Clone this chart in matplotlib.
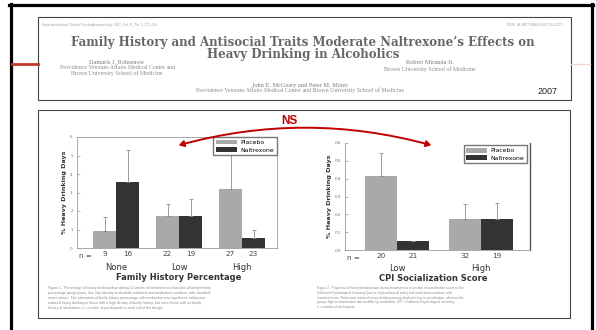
import matplotlib
matplotlib.use('Agg')
import matplotlib.pyplot as plt
from matplotlib.lines import Line2D
from matplotlib.patches import Rectangle, FancyArrowPatch
import numpy as np

W, H = 596, 330

# family history percentage chart
fh_groups = ['None', 'Low', 'High']
fh_placebo = [0.9, 1.75, 3.2]
fh_placebo_err = [0.75, 0.63, 2.0]
fh_naltrexone = [3.55, 1.75, 0.55]
fh_naltrexone_err = [1.77, 0.9, 0.43]
fh_n_placebo = ['9', '22', '27']
fh_n_naltrexone = ['16', '19', '23']
fh_yticks = [0, 1, 2, 3, 4, 5, 6]

# CPI socialization chart
cpi_groups = ['Low', 'High']
cpi_placebo = [0.415, 0.172]
cpi_placebo_err = [0.13, 0.088]
cpi_naltrexone = [0.05, 0.175]
cpi_naltrexone_err = [0.0, 0.09]
cpi_n_placebo = ['20', '32']
cpi_n_naltrexone = ['21', '19']
cpi_yticks = [0.0, 0.1, 0.2, 0.3, 0.4, 0.5, 0.6]

PLACEBO = '#a9a9a9'
NALTREXONE = '#333333'
GREY_TXT = '#6e6e6e'


def fx(x):
    return x / W


def fy(y):
    return 1 - y / H


def box(x0, y0, x1, y1):
    return [fx(x0), fy(y1), (x1 - x0) / W, (y1 - y0) / H]


def bar_chart(ax, groups, plac, plac_err, nal, nal_err, width, n_plac, n_nal,
              yticks, ylabel, xlabel, xlabel_x, legend_anchor):
    ind = np.arange(len(groups))
    xp = ind - width / 2
    xn = ind + width / 2
    ax.bar(xp, plac, width, color=PLACEBO, label='Placebo')
    ax.bar(xn, nal, width, color=NALTREXONE, label='Naltrexone')
    ax.errorbar(xp, plac, yerr=[np.zeros(len(plac)), plac_err], fmt='none',
                ecolor='#8c8c8c', elinewidth=0.6, capsize=1.2, capthick=0.6)
    ax.errorbar(xn, nal, yerr=[np.zeros(len(nal)), nal_err], fmt='none',
                ecolor='#8c8c8c', elinewidth=0.6, capsize=1.2, capthick=0.6)
    ax.set_ylim(yticks[0], yticks[-1])
    ax.set_yticks(yticks)
    ax.set_yticklabels([str(t) for t in yticks], fontsize=3, color=GREY_TXT)
    ax.tick_params(axis='y', direction='in', length=2, width=0.5, color='#999999', pad=3)
    ax.set_xticks(list(xp) + list(xn))
    ax.set_xticklabels(list(n_plac) + list(n_nal), fontsize=5.2, color='#444444')
    ax.tick_params(axis='x', length=0, pad=2)
    ax.text(xp[0] - width * 0.85, -0.045, 'n =', transform=ax.get_xaxis_transform(),
            ha='center', va='top', fontsize=5.2, color='#444444')
    for i, g in enumerate(groups):
        ax.text(ind[i], -0.135, g, transform=ax.get_xaxis_transform(),
                ha='center', va='top', fontsize=6, color='#333333')
    ax.text(xlabel_x, -0.225, xlabel, transform=ax.get_xaxis_transform(),
            ha='center', va='top', fontsize=6, fontweight='bold', color='#333333')
    ax.set_ylabel(ylabel, fontsize=4.6, fontweight='bold', color='#333333', labelpad=2)
    for s in ax.spines.values():
        s.set_color('#9a9a9a')
        s.set_linewidth(0.6)
    ax.legend(loc='upper right', bbox_to_anchor=legend_anchor, fontsize=4.4,
              frameon=True, fancybox=False, edgecolor='#777777', framealpha=1,
              handlelength=3.4, handleheight=0.8, borderpad=0.45, labelspacing=0.3,
              handletextpad=0.6, borderaxespad=0)


fig = plt.figure(figsize=(W / 100, H / 100), dpi=100)
fig.patch.set_facecolor('white')

# slide frame and accent rule
fig.add_artist(Line2D([fx(9), fx(593)], [fy(4.5), fy(4.5)], color='black', lw=2.3))
fig.add_artist(Line2D([fx(10.5), fx(10.5)], [fy(3.5), fy(331)], color='black', lw=2.3))
fig.add_artist(Line2D([fx(591.5), fx(591.5)], [fy(3.5), fy(331)], color='black', lw=2.3))
fig.add_artist(Line2D([fx(12), fx(38)], [fy(64), fy(64)], color='#c0392b', lw=2))
fig.add_artist(Line2D([fx(571), fx(590)], [fy(63.5), fy(63.5)], color='#f2d6cf', lw=1))

# paper header
fig.add_artist(Rectangle((fx(38), fy(100)), (571 - 38) / W, (100 - 17) / H,
                         transform=fig.transFigure, facecolor='white',
                         edgecolor='#444444', lw=0.8, zorder=-5))
serif = 'Liberation Serif'
fig.text(fx(42), fy(24.5), 'Experimental and Clinical Psychopharmacology 2007, Vol. 15, No. 3, 272\u2013281',
         fontsize=2.6, color='#9a9a9a', family=serif, va='center')
fig.text(fx(563), fy(24.5), 'DOI: 10.1037/1064-1297.15.3.272',
         fontsize=2.9, color='#8a8a8a', family=serif, va='center', ha='right')
fig.text(fx(303), fy(48.5),
         "Family History and Antisocial Traits Moderate Naltrexone\u2019s Effects on\n"
         "Heavy Drinking in Alcoholics",
         fontsize=8.5, color='#666666', family='DejaVu Serif', fontweight='bold',
         ha='center', va='center', multialignment='center', linespacing=0.82)
fig.text(fx(117), fy(63), 'Damaris J. Rohsenow', fontsize=4.5, color='#7a7a7a',
         family=serif, ha='center', va='center')
fig.text(fx(117), fy(70.5), 'Providence Veterans Affairs Medical Center and\nBrown University School of Medicine',
         fontsize=4.2, color='#8a8a8a', family=serif, ha='center', va='center', linespacing=0.95)
fig.text(fx(430), fy(63), 'Robert Miranda Jr.', fontsize=4.5, color='#7a7a7a',
         family=serif, ha='center', va='center')
fig.text(fx(430), fy(69), 'Brown University School of Medicine', fontsize=4.2, color='#8a8a8a',
         family=serif, ha='center', va='center')
fig.text(fx(300), fy(85), 'John E. McGeary and Peter M. Monti', fontsize=4.5, color='#7a7a7a',
         family=serif, ha='center', va='center')
fig.text(fx(300), fy(90.5),
         'Providence Veterans Affairs Medical Center and Brown University School of Medicine',
         fontsize=4.2, color='#8a8a8a', family=serif, ha='center', va='center')
fig.text(fx(558), fy(91), '2007', fontsize=6.5, color='#222222', family='Liberation Sans',
         ha='right', va='center')

# figure panel
fig.add_artist(Rectangle((fx(38), fy(318)), (570 - 38) / W, (318 - 110) / H,
                         transform=fig.transFigure, facecolor='white',
                         edgecolor='#444444', lw=0.8, zorder=-5))
fig.text(fx(289), fy(121), 'NS', fontsize=8.5, color='#c00000', fontweight='bold',
         family='Liberation Sans', ha='center', va='center')
fig.add_artist(FancyArrowPatch((fx(176), fy(146)), (fx(434), fy(146)),
                               transform=fig.transFigure,
                               connectionstyle='arc3,rad=-0.14',
                               arrowstyle='<|-|>,head_length=3,head_width=1.8',
                               color='#c00000', lw=1.4, zorder=5))

ax1 = fig.add_axes(box(77, 137, 277, 248))
w1 = 23 / 63
bar_chart(ax1, fh_groups, fh_placebo, fh_placebo_err, fh_naltrexone, fh_naltrexone_err,
          w1, fh_n_placebo, fh_n_naltrexone, fh_yticks, '% Heavy Drinking Days',
          'Family History Percentage', 1.0, (1.0, 1.0))
ax1.set_xlim(-39 / 63, 2 + 35 / 63)

ax2 = fig.add_axes(box(345, 143, 530, 250))
w2 = 32 / 84
bar_chart(ax2, cpi_groups, cpi_placebo, cpi_placebo_err, cpi_naltrexone, cpi_naltrexone_err,
          w2, cpi_n_placebo, cpi_n_naltrexone, cpi_yticks, '% Heavy Drinking Days',
          'CPI Socialization Score', 0.43, (0.985, 0.98))
ax2.set_xlim(-52 / 84, 1 + 49 / 84)
ax2.spines['top'].set_visible(False)
ax2.spines['right'].set_color('#555555')
ax2.spines['right'].set_linewidth(1.0)

# figure captions
cap1 = ('Figure 1.  Percentage of heavy drinking days during 12 weeks of treatment as a function of family history\n'
        'percentage group (none, low, high density of alcoholic relatives) and medication condition, with standard\n'
        'errors shown. The interaction of family history percentage with medication was significant: naltrexone\n'
        'reduced heavy drinking in those with a high density of family history, but not in those with no family\n'
        'history of alcoholism. n = number of participants in each cell of the design.')
fig.text(fx(48), fy(298), cap1, fontsize=2.55, color='#8a8a8a', family='Liberation Sans',
         va='center', linespacing=1.25)
cap2 = ('Figure 2.  Proportion of heavy drinking days during treatment as a function of socialization score on the\n'
        'California Psychological Inventory (low vs. high antisocial traits) and medication condition, with\n'
        'standard errors. Naltrexone reduced heavy drinking among alcoholics low in socialization, whereas the\n'
        'groups high in socialization did not differ by medication. CPI = California Psychological Inventory;\n'
        'n = number of participants.')
fig.text(fx(317), fy(297.5), cap2, fontsize=2.35, color='#8a8a8a', family='Liberation Sans',
         va='center', linespacing=1.25)

fig.savefig('out.png', dpi=100)
